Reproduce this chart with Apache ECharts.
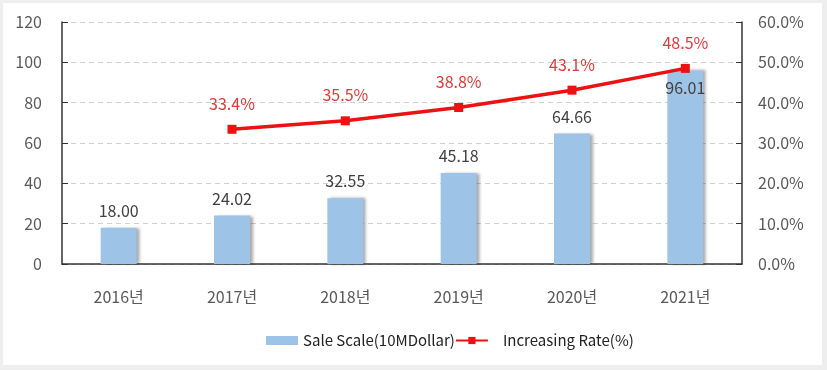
<!DOCTYPE html>
<html><head><meta charset="utf-8">
<script src="https://cdn.jsdelivr.net/npm/echarts@6/dist/echarts.min.js"></script>
<style>html,body{margin:0;padding:0;background:#eeeeee;}#c{position:absolute;left:3px;top:3px;width:819px;height:362px;background:#fff;}</style>
</head><body><div id="c"></div>
<script>
const categories = ['2016년','2017년','2018년','2019년','2020년','2021년'];
const saleScale = [18.00, 24.02, 32.55, 45.18, 64.66, 96.01];
const increasingRate = [null, 33.4, 35.5, 38.8, 43.1, 48.5];
const leftTicks = [0,20,40,60,80,100,120];
const F = '"Noto Sans CJK KR", "Noto Sans", sans-serif';
const chart = echarts.init(document.getElementById('c'));
const barData = saleScale.map((v,i)=> i===saleScale.length-1
  ? {value:v, label:{position:'insideTop', distance:10}} : v);
chart.setOption({
  animation:false,
  textStyle:{fontFamily:F},
  grid:{left:59, right:80, top:19, bottom:101},
  legend:{
    bottom:12, left:258, itemGap:0, itemWidth:32, itemHeight:9,
    textStyle:{fontFamily:F, fontSize:15, color:'#222'},
    data:[{name:'Sale Scale(10MDollar)', icon:'rect'},
          {name:'Increasing Rate(%)', textStyle:{padding:[0,0,0,10]}}]
  },
  xAxis:{type:'category', data:categories,
    axisLine:{lineStyle:{color:'#333', width:1.5}},
    axisTick:{inside:true, length:6, lineStyle:{color:'#333'}},
    axisLabel:{color:'#595959', fontSize:16, margin:25, fontFamily:F}},
  yAxis:[{type:'value', min:0, max:120, interval:20,
    axisLine:{show:true, lineStyle:{color:'#333', width:1.5}},
    axisTick:{show:true, inside:true, length:6, lineStyle:{color:'#333'}},
    axisLabel:{color:'#595959', fontSize:16, margin:20, fontFamily:F},
    splitLine:{lineStyle:{color:'#d0d0d0', type:[5,4]}}},
   {type:'value', min:0, max:60, interval:10, position:'right',
    axisLine:{show:true, lineStyle:{color:'#333', width:1.5}},
    axisTick:{show:true, inside:true, length:6, lineStyle:{color:'#333'}},
    axisLabel:{color:'#595959', fontSize:16, margin:16, fontFamily:F, formatter:v=>v.toFixed(1)+'%'},
    splitLine:{show:false}}],
  series:[
    {name:'Sale Scale(10MDollar)', type:'bar', data:barData, barWidth:36,
     itemStyle:{color:'#9dc3e6', shadowColor:'rgba(0,0,0,0.35)', shadowBlur:3, shadowOffsetX:3, shadowOffsetY:0},
     label:{show:true, position:'top', distance:9, color:'#404040', fontSize:16, fontFamily:F, formatter:p=>p.value.toFixed(2)}},
    {name:'Increasing Rate(%)', type:'line', yAxisIndex:1, data:increasingRate,
     symbol:'rect', symbolSize:9, lineStyle:{color:'#ee1111', width:3.5},
     itemStyle:{color:'#ee1111'},
     label:{show:true, position:'top', distance:13, color:'#e03a3a', fontSize:16, fontFamily:F, formatter:p=>p.value.toFixed(1)+'%'}}
  ]
});
</script></body></html>
